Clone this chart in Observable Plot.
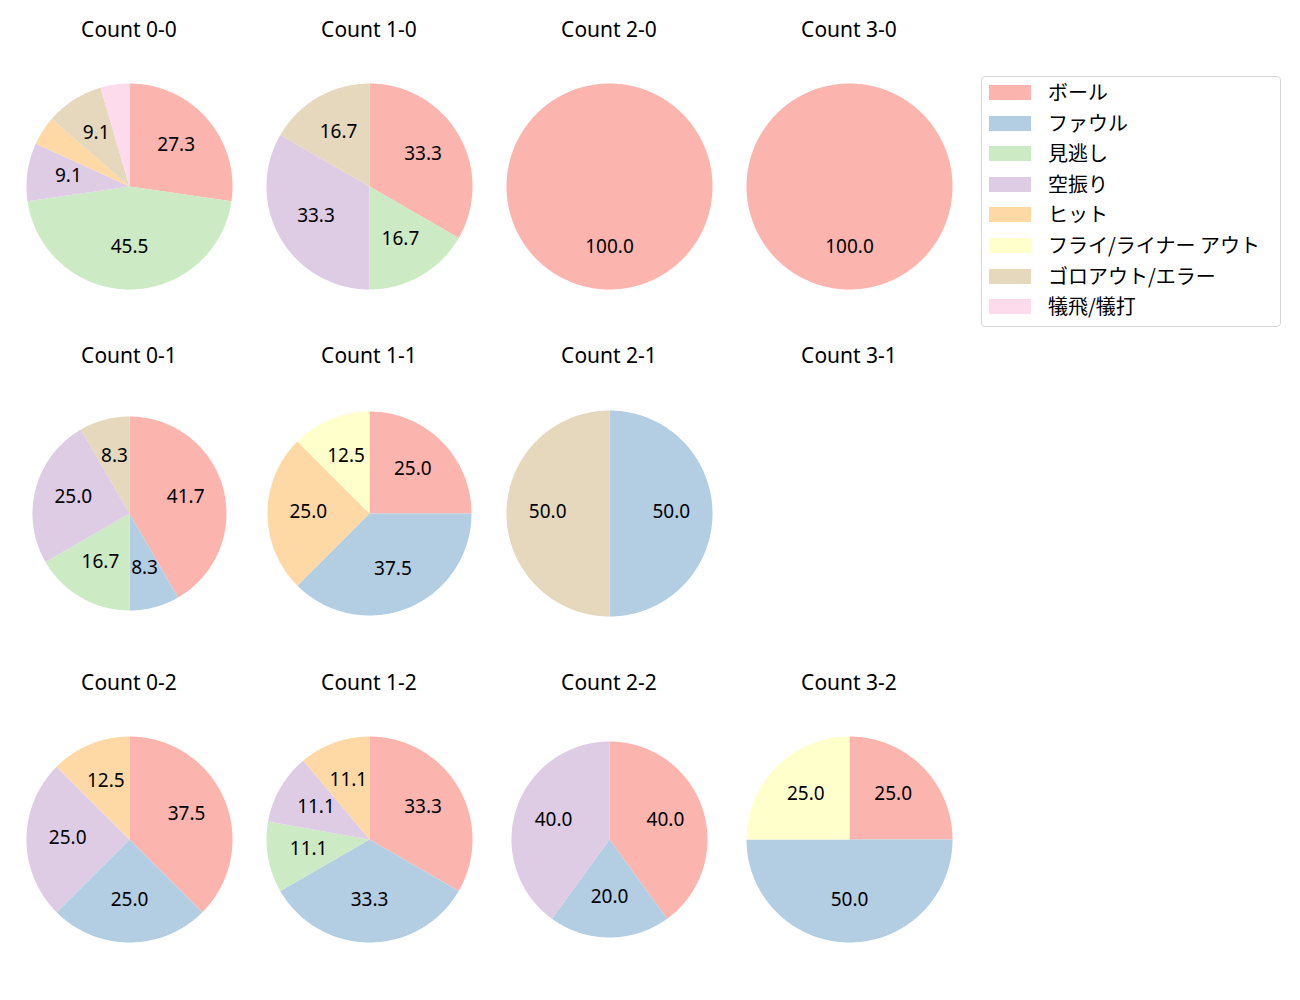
<!DOCTYPE html>
<html><head><meta charset="utf-8">
<script src="https://cdn.jsdelivr.net/npm/d3@7"></script>
<script src="https://cdn.jsdelivr.net/npm/@observablehq/plot@0.6"></script>
<style>
body{margin:0;background:#fff;font-family:"Noto Sans","Noto Sans CJK JP",sans-serif;}
#root{position:relative;width:1300px;height:1000px;overflow:hidden;}
.panel{position:absolute;width:240px;height:240px;}
.title{position:absolute;width:240px;text-align:center;font-size:21px;color:#000;line-height:24px;white-space:nowrap;}
.legend{position:absolute;left:981px;top:76px;width:298px;height:249px;border:1px solid #d6d6d6;border-radius:4px;background:#fff;}
.li{position:absolute;left:0;height:20px;width:298px;}
.sw{position:absolute;left:7px;top:3px;width:42px;height:15px;}
.lt{position:absolute;left:66px;top:-1px;font-size:20px;line-height:22px;white-space:nowrap;color:#000;font-family:"Noto Sans CJK JP","Noto Sans",sans-serif;}
</style></head>
<body><div id="root"></div>
<script>
// ---- data ----
const categories = ["ボール","ファウル","見逃し","空振り","ヒット","フライ/ライナー アウト","ゴロアウト/エラー","犠飛/犠打"];
const colors = ["#fbb4ae","#b3cde3","#ccebc5","#decbe4","#fed9a6","#ffffcc","#e5d8bd","#fddaec"];
const titles = ["Count 0-0","Count 1-0","Count 2-0","Count 3-0",
                "Count 0-1","Count 1-1","Count 2-1","Count 3-1",
                "Count 0-2","Count 1-2","Count 2-2","Count 3-2"];
// counts per category (same order as categories)
const count00 = [6,0,10,2,1,0,2,1];
const count10 = [2,0,1,2,0,0,1,0];
const count20 = [1,0,0,0,0,0,0,0];
const count30 = [1,0,0,0,0,0,0,0];
const count01 = [5,1,2,3,0,0,1,0];
const count11 = [2,3,0,0,2,1,0,0];
const count21 = [0,1,0,0,0,0,1,0];
const count31 = [0,0,0,0,0,0,0,0];
const count02 = [3,2,0,2,1,0,0,0];
const count12 = [3,3,1,1,1,0,0,0];
const count22 = [2,1,0,2,0,0,0,0];
const count32 = [1,2,0,0,0,1,0,0];
const panelCounts = [count00,count10,count20,count30,count01,count11,count21,count31,count02,count12,count22,count32];

// ---- layout ----
const root = document.getElementById("root");
const colX = 129, colStep = 240, rowY = 186, rowStep = 326.5;
const baseR = 103, half = 120;
const radiusPx = {"Count 0-1": 97, "Count 2-2": 98, "Count 1-1": 102};
const S = half / baseR;
const frame = {type:"Polygon", coordinates:[[[-S,-S],[S,-S],[S,S],[-S,S],[-S,-S]]]};

function wedges(counts, r) {
  const total = d3.sum(counts);
  const feats = [], labels = [];
  let cum = 0;
  counts.forEach((c, i) => {
    if (c <= 0) return;
    const f = c / total;
    const t1 = 90 - cum * 360, t2 = t1 - f * 360;
    const n = Math.max(2, Math.ceil(f * 360));
    const ring = [[0,0]];
    for (let k = 0; k <= n; k++) {
      const a = (t1 + (t2 - t1) * k / n) * Math.PI / 180;
      ring.push([r * Math.cos(a), r * Math.sin(a)]);
    }
    ring.push([0,0]);
    feats.push({type:"Feature", properties:{cat: categories[i]}, geometry:{type:"Polygon", coordinates:[ring]}});
    const m = (t1 - f * 180) * Math.PI / 180;
    if (f * 100 >= 5) labels.push({x: 0.6 * r * Math.cos(m), y: 0.6 * r * Math.sin(m), text: (f * 100).toFixed(1)});
    cum += f;
  });
  return {feats, labels};
}

titles.forEach((t, idx) => {
  const col = idx % 4, row = Math.floor(idx / 4);
  const cx = colX + col * colStep, cy = rowY + row * rowStep;
  const title = document.createElement("div");
  title.className = "title";
  title.style.left = (cx - 120) + "px";
  title.style.top = (cy - 169.5) + "px";
  title.textContent = t;
  root.appendChild(title);
  const counts = panelCounts[idx];
  if (d3.sum(counts) === 0) return;
  const r = (radiusPx[t] || baseR) / baseR;
  const {feats, labels} = wedges(counts, r);
  const chart = Plot.plot({
    width: 240, height: 240, margin: 0, inset: 0,
    style: {background: "transparent", fontFamily: "'Noto Sans','Noto Sans CJK JP',sans-serif", fontSize: "19px", overflow: "visible"},
    projection: {type: "reflect-y", domain: frame},
    color: {type: "ordinal", domain: categories, range: colors},
    marks: [
      Plot.geo(feats, {fill: d => d.properties.cat, stroke: "none"}),
      Plot.text(labels, {x: "x", y: "y", text: "text", fill: "black", fontSize: 19, dy: -1.5})
    ]
  });
  const div = document.createElement("div");
  div.className = "panel";
  div.style.left = (cx - 120) + "px";
  div.style.top = (cy - 120) + "px";
  div.appendChild(chart);
  root.appendChild(div);
});

// legend
const leg = document.createElement("div");
leg.className = "legend";
categories.forEach((c, i) => {
  const li = document.createElement("div");
  li.className = "li";
  li.style.top = (5 + i * 30.6) + "px";
  const sw = document.createElement("div");
  sw.className = "sw";
  sw.style.background = colors[i];
  const lt = document.createElement("div");
  lt.className = "lt";
  lt.textContent = c;
  li.appendChild(sw); li.appendChild(lt);
  leg.appendChild(li);
});
root.appendChild(leg);
</script>
</body></html>
